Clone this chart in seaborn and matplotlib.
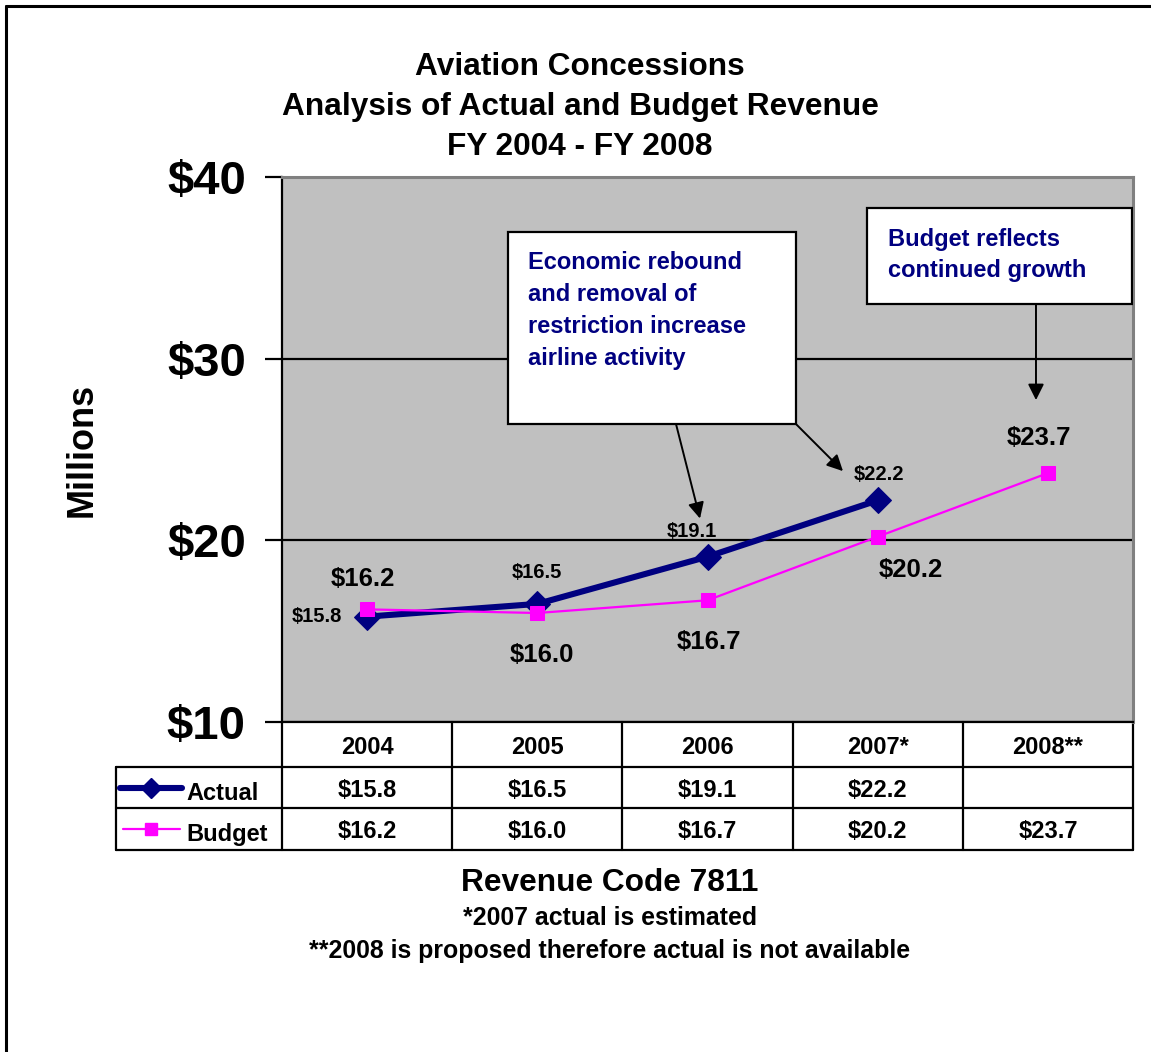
import numpy as np
import pandas as pd
import matplotlib
matplotlib.use("Agg")
import matplotlib.pyplot as plt
import matplotlib.transforms as mtransforms
from matplotlib.patches import Rectangle
from matplotlib.lines import Line2D
import seaborn as sns

# ---------------- data ----------------
years = ["2004", "2005", "2006", "2007*", "2008**"]
actual = [15.8, 16.5, 19.1, 22.2, np.nan]
budget = [16.2, 16.0, 16.7, 20.2, 23.7]
yticks = [10, 20, 30, 40]
ytick_labels = ["$10", "$20", "$30", "$40"]
title_lines = ["Aviation Concessions",
               "Analysis of Actual and Budget Revenue",
               "FY 2004 - FY 2008"]
footer_lines = ["Revenue Code 7811",
                "*2007 actual is estimated",
                "**2008 is proposed therefore actual is not available"]
callout1 = ["Economic rebound", "and removal of",
            "restriction increase", "airline activity"]
callout2 = ["Budget reflects", "continued growth"]

# ---------------- style ----------------
sns.set_style("white")
plt.rcParams["font.family"] = ["Liberation Sans", "DejaVu Sans"]
plt.rcParams["font.weight"] = "bold"
plt.rcParams["text.color"] = "black"
plt.rcParams["axes.labelcolor"] = "black"
plt.rcParams["ytick.color"] = "black"
plt.rcParams["xtick.color"] = "black"

W, H = 1151, 1052
fig = plt.figure(figsize=(W / 100, H / 100), dpi=100)
fx = lambda px: px / W
fy = lambda py: 1 - py / H

NAVY = "#000080"
MAG = "#FF00FF"

ax = fig.add_axes([fx(282), fy(722), 851 / W, 545 / H])
ax.set_facecolor("#C0C0C0")

pos = np.arange(len(years))
df = pd.DataFrame({"pos": pos, "Actual": actual, "Budget": budget})

sns.lineplot(data=df.dropna(subset=["Actual"]), x="pos", y="Actual", ax=ax,
             color=NAVY, lw=4.4, marker="D", markersize=13,
             markeredgecolor=NAVY, zorder=4, legend=False)
sns.lineplot(data=df, x="pos", y="Budget", ax=ax,
             color=MAG, lw=1.6, marker="s", markersize=10,
             markeredgecolor=MAG, zorder=5, legend=False)

ax.set_xlim(-0.5, 4.5)
ax.set_ylim(10, 40)
ax.set_xticks([])
ax.set_yticks(yticks)
ax.set_yticklabels(ytick_labels, fontsize=34, fontweight="bold", color="black")
ax.tick_params(axis="y", direction="out", length=12, width=1.6, pad=14,
               colors="black", left=True)
ax.yaxis.grid(True, color="black", lw=1.6)
ax.set_axisbelow(True)
ax.set_xlabel("")
ax.set_ylabel("")
for s in ["left", "bottom"]:
    ax.spines[s].set_color("black")
    ax.spines[s].set_linewidth(1.6)
for s in ["top", "right"]:
    ax.spines[s].set_color("#808080")
    ax.spines[s].set_linewidth(2.2)

# ---------------- data labels ----------------
act_off = [(-50, 0), (0, 31), (-16, 25), (1, 26)]
bud_off = [(-4, 30), (5, -42), (1, -42), (33, -33), (-9, 35)]
for i, v in enumerate(actual):
    if np.isnan(v):
        continue
    ax.annotate(f"${v:.1f}", (pos[i], v), xytext=act_off[i],
                textcoords="offset pixels", ha="center", va="center",
                fontsize=14.5, fontweight="bold", color="black", zorder=6)
for i, v in enumerate(budget):
    ax.annotate(f"${v:.1f}", (pos[i], v), xytext=bud_off[i],
                textcoords="offset pixels", ha="center", va="center",
                fontsize=18.5, fontweight="bold", color="black", zorder=6)

# ---------------- callouts ----------------
ax.add_patch(Rectangle((0.828, 26.40), 2.520 - 0.828, 36.97 - 26.40,
                       facecolor="white", edgecolor="black", lw=1.6, zorder=3))
for k, line in enumerate(callout1):
    ax.text(0.945, 35.30 - k * 1.761, line, color=NAVY, fontsize=17,
            fontweight="bold", ha="left", va="center", zorder=4)
ax.add_patch(Rectangle((2.937, 33.0), 4.494 - 2.937, 38.29 - 33.0,
                       facecolor="white", edgecolor="black", lw=1.6, zorder=3))
for k, line in enumerate(callout2):
    ax.text(3.061, 36.56 - k * 1.70, line, color=NAVY, fontsize=17,
            fontweight="bold", ha="left", va="center", zorder=4)

arrow_kw = dict(arrowstyle="-|>", color="black", lw=1.4, mutation_scale=24,
                shrinkA=0, shrinkB=0)
ax.annotate("", xy=(1.956, 21.2), xytext=(1.815, 26.40), arrowprops=arrow_kw, zorder=4)
ax.annotate("", xy=(2.796, 23.81), xytext=(2.520, 26.40), arrowprops=arrow_kw, zorder=4)
ax.annotate("", xy=(3.930, 27.72), xytext=(3.930, 33.0), arrowprops=arrow_kw, zorder=4)

# ---------------- data table ----------------
tr = mtransforms.blended_transform_factory(ax.transData, ax.transAxes)
r0, r1, r2, r3 = 0.0, -45 / 545, -86 / 545, -128 / 545
xl = -1.475
dt = -3 / 545
lkw = dict(color="black", lw=1.6, transform=tr, clip_on=False)
for yy in (r1, r2, r3):
    ax.add_line(Line2D([xl, 4.5], [yy, yy], **lkw))
for xx in np.arange(-0.5, 4.6, 1.0):
    ax.add_line(Line2D([xx, xx], [r0, r3], **lkw))
ax.add_line(Line2D([xl, xl], [r1, r3], **lkw))

tkw = dict(transform=tr, ha="center", va="center", fontsize=17,
           fontweight="bold", color="black", clip_on=False)
for i, yr in enumerate(years):
    ax.text(pos[i], (r0 + r1) / 2 + dt, yr, **tkw)
    if not np.isnan(actual[i]):
        ax.text(pos[i], (r1 + r2) / 2 + dt, f"${actual[i]:.1f}", **tkw)
    ax.text(pos[i], (r2 + r3) / 2 + dt, f"${budget[i]:.1f}", **tkw)

ax.add_line(Line2D([-1.452, -1.088], [(r1 + r2) / 2] * 2, color=NAVY, lw=4.4,
                   transform=tr, clip_on=False))
ax.add_line(Line2D([-1.27], [(r1 + r2) / 2], color=NAVY, marker="D",
                   markersize=10, transform=tr, clip_on=False, lw=0))
ax.add_line(Line2D([-1.434, -1.099], [(r2 + r3) / 2] * 2, color=MAG, lw=1.6,
                   transform=tr, clip_on=False))
ax.add_line(Line2D([-1.27], [(r2 + r3) / 2], color=MAG, marker="s",
                   markersize=9, transform=tr, clip_on=False, lw=0))
ax.text(-1.064, (r1 + r2) / 2 + 2 * dt, "Actual", transform=tr, ha="left",
        va="center", fontsize=17, fontweight="bold", color="black", clip_on=False)
ax.text(-1.064, (r2 + r3) / 2 + 2 * dt, "Budget", transform=tr, ha="left",
        va="center", fontsize=17, fontweight="bold", color="black", clip_on=False)

# ---------------- titles & labels ----------------
for k, line in enumerate(title_lines):
    fig.text(fx(580), fy(67 + 40 * k), line, ha="center", va="center",
             fontsize=22.8, fontweight="bold", color="black")
fig.text(fx(82), fy(450), "Millions", rotation=90, ha="center", va="center",
         fontsize=26, fontweight="bold", color="black")
fig.text(fx(610), fy(883), footer_lines[0], ha="center", va="center",
         fontsize=22.8, fontweight="bold", color="black")
fig.text(fx(610), fy(918), footer_lines[1], ha="center", va="center",
         fontsize=17.9, fontweight="bold", color="black")
fig.text(fx(610), fy(951), footer_lines[2], ha="center", va="center",
         fontsize=17.9, fontweight="bold", color="black")

# outer frame (top and left edges)
fig.add_artist(Line2D([fx(6), 1.0], [fy(6), fy(6)], color="black", lw=2.2,
                      transform=fig.transFigure))
fig.add_artist(Line2D([fx(6), fx(6)], [fy(6), 0.0], color="black", lw=2.2,
                      transform=fig.transFigure))

fig.savefig("out.png", dpi=100)
